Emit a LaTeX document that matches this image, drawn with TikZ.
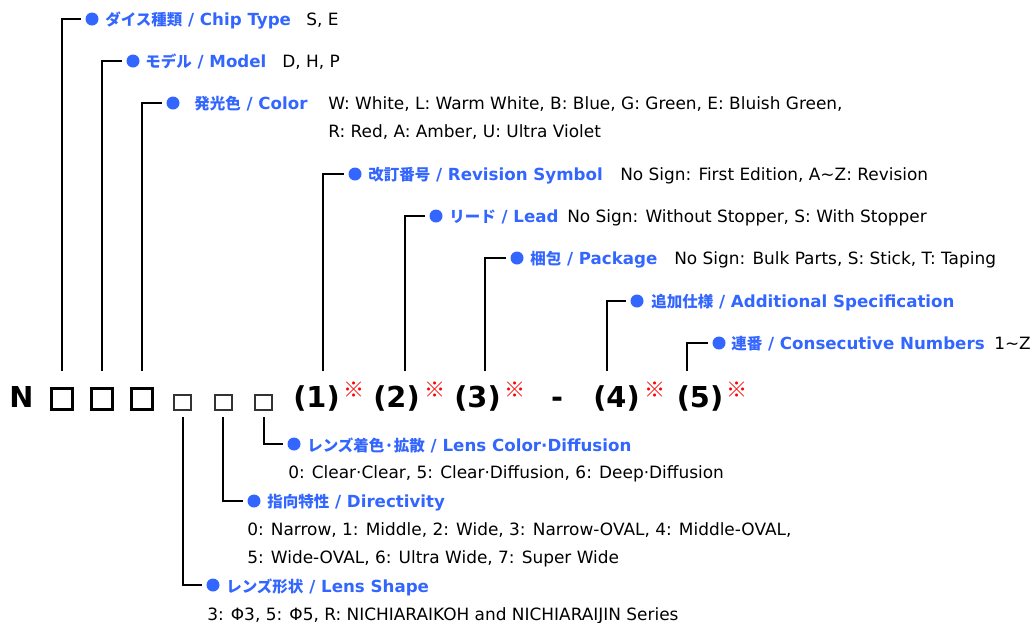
\documentclass[tikz,border=0pt]{standalone}
\usepackage{fontspec}
\setmainfont{DejaVu Sans}
\newfontfamily\jp[Scale=0.93]{Noto Sans CJK JP}
\definecolor{lblue}{HTML}{3366FF}
\definecolor{refred}{HTML}{FF0000}
\newcommand{\jl}[2]{{\jp #1}\ /\ #2}
\newcommand{\tld}{\textasciitilde}

\tikzset{
  wire/.style={line width=1.5pt},
  dot/.style={circle, fill=lblue, inner sep=0pt, minimum size=9.75pt},
  lbl/.style={anchor=base west, inner sep=0pt, text=lblue, font=\fontsize{12.5}{14}\selectfont\bfseries},
  val/.style={anchor=base west, inner sep=0pt, font=\fontsize{12.7}{14}\selectfont},
  code/.style={anchor=base, inner sep=0pt, font=\fontsize{21.6}{24}\selectfont\bfseries},
  bigsq/.style={draw, line width=2.25pt, minimum size=15.75pt, inner sep=0pt},
  smallsq/.style={draw=black!80, line width=1.5pt, minimum width=12.75pt, minimum height=11.25pt, inner sep=0pt},
  refmark/.style={inner sep=0pt, text=refred, font=\jp\fontsize{17}{18}\selectfont},
}

\begin{document}
\begin{tikzpicture}[x=0.75pt, y=-0.75pt]
  \useasboundingbox (0,0) rectangle (1031,622);

  % product code
  \node[code] (cN) at (21.5,407) {N};
  \node[bigsq] (sq1) at (61.5,398.5) {};
  \node[bigsq] (sq2) at (101.5,398.5) {};
  \node[bigsq] (sq3) at (141.5,398.5) {};
  \node[smallsq] (ss1) at (182.5,402.5) {};
  \node[smallsq] (ss2) at (223,402.5) {};
  \node[smallsq] (ss3) at (263.5,402.5) {};
  \node[code] (c1) at (316.5,407) {(1)};
  \node[refmark] (m1) at (354.5,390) {※};
  \node[code] (c2) at (396.5,407) {(2)};
  \node[refmark] (m2) at (435,390) {※};
  \node[code] (c3) at (477.5,407) {(3)};
  \node[refmark] (m3) at (515.5,390) {※};
  \node[code] (dash) at (557,407) {-};
  \node[code] (c4) at (616.5,407) {(4)};
  \node[refmark] (m4) at (655.5,390) {※};
  \node[code] (c5) at (700,407) {(5)};
  \node[refmark] (m5) at (737,390) {※};

  % upper labels
  \node[dot] (dchip) at (92,19) {};
  \node[lbl] (chip) at (105,25) {\jl{ダイス種類}{Chip Type}};
  \node[val] (vchip) at (306,25) {S, E};

  \node[dot] (dmodel) at (133,61) {};
  \node[lbl] (model) at (145,67) {\jl{モデル}{Model}};
  \node[val] (vmodel) at (282,67) {D, H, P};

  \node[dot] (dcolor) at (173,103) {};
  \node[lbl] (color) at (194,109) {\jl{発光色}{Color}};
  \node[val] (vcolor) at (328,109) {W: White, L: Warm White, B: Blue, G: Green, E: Bluish Green,};
  \node[val] (vcolorb) at (328,137) {R: Red, A: Amber, U: Ultra Violet};

  \node[dot] (drev) at (355,174) {};
  \node[lbl] (rev) at (368,180) {\jl{改訂番号}{Revision Symbol}};
  \node[val] (vrev) at (620,180) {No Sign: First Edition, A\tld Z: Revision};

  \node[dot] (dlead) at (436,216) {};
  \node[lbl] (lead) at (449,222) {\jl{リード}{Lead}};
  \node[val] (vlead) at (567,222) {No Sign: Without Stopper, S: With Stopper};

  \node[dot] (dpack) at (517,258) {};
  \node[lbl] (pack) at (530,264) {\jl{梱包}{Package}};
  \node[val] (vpack) at (674,264) {No Sign: Bulk Parts, S: Stick, T: Taping};

  \node[dot] (daddl) at (637,301) {};
  \node[lbl] (addl) at (651,307) {\jl{追加仕様}{Additional Specification}};

  \node[dot] (dcons) at (719,343) {};
  \node[lbl] (cons) at (731,349) {\jl{連番}{Consecutive Numbers}};
  \node[val] (vcons) at (994,349) {1\tld Z};

  % lower labels
  \node[dot] (dlcol) at (294,444) {};
  \node[lbl] (lcol) at (307,451) {\jl{レンズ着色·拡散}{Lens Color·Diffusion}};
  \node[val] (vlcol) at (288,478) {0: Clear·Clear, 5: Clear·Diffusion, 6: Deep·Diffusion};

  \node[dot] (ddir) at (254,501) {};
  \node[lbl] (dir) at (267,507) {\jl{指向特性}{Directivity}};
  \node[val] (vdir) at (247,535) {0: Narrow, 1: Middle, 2: Wide, 3: Narrow-OVAL, 4: Middle-OVAL,};
  \node[val] (vdirb) at (247,563) {5: Wide-OVAL, 6: Ultra Wide, 7: Super Wide};

  \node[dot] (dshape) at (213,585) {};
  \node[lbl] (shape) at (226,592) {\jl{レンズ形状}{Lens Shape}};
  \node[val] (vshape) at (207,620) {3: Φ3, 5: Φ5, R: NICHIARAIKOH and NICHIARAIJIN Series};

  % leaders
  \draw[wire, shorten <=12pt, shorten >=3pt] (sq1.north) |- (dchip.west);
  \draw[wire, shorten <=12pt, shorten >=3pt] (sq2.north) |- (dmodel.west);
  \draw[wire, shorten <=12pt, shorten >=3pt] (sq3.north) |- (dcolor.west);
  \draw[wire, shorten <=10.5pt, shorten >=3pt] ([xshift=5pt]c1.north) |- (drev.west);
  \draw[wire, shorten <=10.5pt, shorten >=3pt] ([xshift=6pt]c2.north) |- (dlead.west);
  \draw[wire, shorten <=10.5pt, shorten >=3pt] ([xshift=5.5pt]c3.north) |- (dpack.west);
  \draw[wire, shorten <=10.5pt, shorten >=3pt] ([xshift=-7.5pt]c4.north) |- (daddl.west);
  \draw[wire, shorten <=10.5pt, shorten >=3pt] ([xshift=-9.75pt]c5.north) |- (dcons.west);
  \draw[wire, shorten <=4.5pt, shorten >=3pt] (ss1.south) |- (dshape.west);
  \draw[wire, shorten <=4.5pt, shorten >=3pt] (ss2.south) |- (ddir.west);
  \draw[wire, shorten <=4.5pt, shorten >=3pt] (ss3.south) |- (dlcol.west);
\end{tikzpicture}
\end{document}
